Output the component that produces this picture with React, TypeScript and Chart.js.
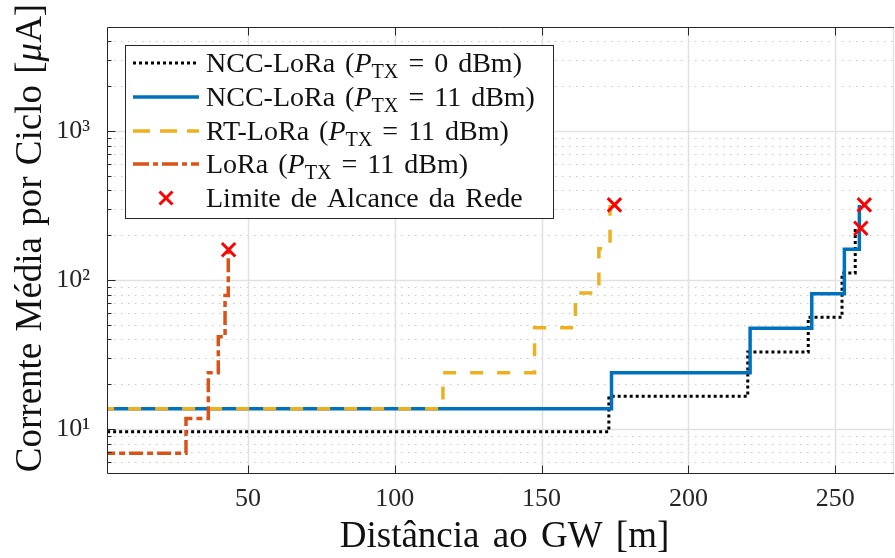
import React, { useEffect, useRef } from 'react';
import { Chart, registerables } from 'chart.js';

Chart.register(...registerables);

const FONT = '"Liberation Serif", "Times New Roman", serif';
const AXIS_COLOR = '#262626';

// ---- data ----
const ncc0X = [0, 172.9, 220.2, 240.8, 252.3, 256.8];
const ncc0Y = [9.6, 16.6, 32.9, 56.4, 111.7, 223];

const ncc11X = [0, 173.8, 221.0, 242.0, 253.1, 258.2];
const ncc11Y = [13.7, 23.9, 47.5, 81, 161, 320];

const rtX = [0, 116.4, 147.6, 161.5, 169.5, 173.3];
const rtY = [13.7, 23.9, 47.9, 82, 162.5, 320];

const loraX = [0, 28.9, 36.5, 39.9, 42.2, 43.3];
const loraY = [6.9, 11.8, 23.9, 41.7, 78.8, 160];

const limitX = [43.4, 174.8, 258.7, 259.9];
const limitY = [160, 320, 223, 320];

const xTickValues = [50, 100, 150, 200, 250];
const yMajorTicks = [10, 100, 1000];
const yTickLabels = ['10¹', '10²', '10³'];
const yMinorTicks = [6, 7, 8, 9, 20, 30, 40, 50, 60, 70, 80, 90, 200, 300, 400, 500, 600, 700, 800, 900, 2000, 3000, 4000];

const legendNames = ['NCC-LoRa', 'NCC-LoRa', 'RT-LoRa', 'LoRa', 'Limite de Alcance da Rede'];
const legendPowers = ['0 dBm', '11 dBm', '11 dBm', '11 dBm', ''];

const xTitle = 'Distância ao GW [m]';
const yTitlePre = 'Corrente Média por Ciclo [';
const yTitleMu = 'μ';
const yTitlePost = 'A]';

const COLORS = {
  ncc0: '#000000',
  ncc11: '#0072BD',
  rt: '#EDB120',
  lora: '#D95319',
  limit: '#FF0000',
};

const W = 895;
const H = 558;

const toPts = (xs: number[], ys: number[]) => xs.map((x, i) => ({ x, y: ys[i] }));

type Piece = { text: string; italic?: boolean; sub?: boolean };

function setWS(ctx: any, px: number) {
  if ('wordSpacing' in ctx) ctx.wordSpacing = px + 'px';
}

function drawPieces(ctx: CanvasRenderingContext2D, pieces: Piece[], x: number, y: number, size: number) {
  let cx = x;
  for (const p of pieces) {
    const s = p.sub ? size * 0.72 : size;
    ctx.font = `${p.italic ? 'italic ' : ''}${s}px ${FONT}`;
    ctx.fillText(p.text, cx, y + (p.sub ? size * 0.22 : 0));
    cx += ctx.measureText(p.text).width;
  }
  return cx - x;
}

function measurePieces(ctx: CanvasRenderingContext2D, pieces: Piece[], size: number) {
  let w = 0;
  for (const p of pieces) {
    const s = p.sub ? size * 0.72 : size;
    ctx.font = `${p.italic ? 'italic ' : ''}${s}px ${FONT}`;
    w += ctx.measureText(p.text).width;
  }
  return w;
}

const decorPlugin = {
  id: 'decor',
  beforeDatasetsDraw(chart: any) {
    const { ctx, chartArea: a, scales } = chart;
    const x = scales.x;
    const y = scales.y;
    ctx.save();
    ctx.beginPath();
    ctx.rect(a.left, a.top, a.right - a.left, a.bottom - a.top);
    ctx.clip();
    // minor dotted y grid
    ctx.strokeStyle = '#c8c8c8';
    ctx.lineWidth = 1;
    ctx.setLineDash([1.5, 5.5]);
    for (const v of yMinorTicks) {
      const py = Math.round(y.getPixelForValue(v)) + 0.5;
      ctx.beginPath();
      ctx.moveTo(a.left, py);
      ctx.lineTo(a.right, py);
      ctx.stroke();
    }
    ctx.setLineDash([]);
    ctx.strokeStyle = '#e1e1e1';
    ctx.lineWidth = 1.5;
    for (const v of yMajorTicks) {
      const py = Math.round(y.getPixelForValue(v)) + 0.5;
      ctx.beginPath();
      ctx.moveTo(a.left, py);
      ctx.lineTo(a.right, py);
      ctx.stroke();
    }
    for (const v of xTickValues) {
      const px = Math.round(x.getPixelForValue(v)) + 0.5;
      ctx.beginPath();
      ctx.moveTo(px, a.top);
      ctx.lineTo(px, a.bottom);
      ctx.stroke();
    }
    // faint right edge (the frame is cut by the picture edge)
    ctx.beginPath();
    ctx.moveTo(a.right - 0.5, a.top);
    ctx.lineTo(a.right - 0.5, a.bottom);
    ctx.stroke();
    ctx.restore();
  },
  afterDatasetsDraw(chart: any) {
    const { ctx, chartArea: a, scales } = chart;
    const x = scales.x;
    const y = scales.y;
    ctx.save();
    // axes frame (left, top, bottom)
    ctx.strokeStyle = AXIS_COLOR;
    ctx.lineWidth = 1;
    const L = Math.round(a.left) + 0.5;
    const R = Math.round(a.right);
    const T = Math.round(a.top) + 0.5;
    const B = Math.round(a.bottom) - 0.5;
    ctx.beginPath();
    ctx.moveTo(R, T); ctx.lineTo(L, T); ctx.lineTo(L, B); ctx.lineTo(R, B);
    ctx.stroke();
    // ticks
    ctx.beginPath();
    for (const v of xTickValues) {
      const px = Math.round(x.getPixelForValue(v)) + 0.5;
      ctx.moveTo(px, B); ctx.lineTo(px, B - 8);
      ctx.moveTo(px, T); ctx.lineTo(px, T + 8);
    }
    for (const v of yMajorTicks) {
      const py = Math.round(y.getPixelForValue(v)) + 0.5;
      ctx.moveTo(L, py); ctx.lineTo(L + 8, py);
    }
    for (const v of yMinorTicks) {
      const py = Math.round(y.getPixelForValue(v)) + 0.5;
      ctx.moveTo(L, py); ctx.lineTo(L + 4, py);
    }
    ctx.stroke();

    // legend
    const box = { l: 125.5, t: 45.5, r: 553.5, b: 218.5 };
    ctx.fillStyle = '#ffffff';
    ctx.fillRect(box.l, box.t, box.r - box.l, box.b - box.t);
    ctx.strokeStyle = AXIS_COLOR;
    ctx.lineWidth = 1;
    ctx.strokeRect(box.l, box.t, box.r - box.l, box.b - box.t);
    const rowsY = [63, 97, 131, 164, 198];
    const sx0 = 133;
    const sx1 = 199;
    const styles = [
      { c: COLORS.ncc0, dash: [3, 3], w: 3 },
      { c: COLORS.ncc11, dash: [], w: 3.5 },
      { c: COLORS.rt, dash: [17, 10], w: 3.5 },
      { c: COLORS.lora, dash: [16, 4, 5, 4], w: 3.5 },
    ];
    styles.forEach((s, i) => {
      ctx.strokeStyle = s.c;
      ctx.lineWidth = s.w;
      ctx.setLineDash(s.dash);
      ctx.lineCap = 'butt';
      ctx.beginPath();
      ctx.moveTo(sx0, rowsY[i]);
      ctx.lineTo(sx1, rowsY[i]);
      ctx.stroke();
    });
    ctx.setLineDash([]);
    // red X sample
    {
      const cx = 166, cy = rowsY[4], r = 6.5;
      ctx.strokeStyle = COLORS.limit;
      ctx.lineWidth = 3;
      ctx.beginPath();
      ctx.moveTo(cx - r, cy - r); ctx.lineTo(cx + r, cy + r);
      ctx.moveTo(cx + r, cy - r); ctx.lineTo(cx - r, cy + r);
      ctx.stroke();
    }
    ctx.fillStyle = '#111111';
    ctx.textBaseline = 'alphabetic';
    ctx.textAlign = 'left';
    const LS = 28;
    setWS(ctx, 3);
    legendNames.forEach((name, i) => {
      const pieces: Piece[] = legendPowers[i]
        ? [
            { text: name + ' (' },
            { text: 'P', italic: true },
            { text: 'TX', sub: true },
            { text: ' = ' + legendPowers[i] + ')' },
          ]
        : [{ text: name }];
      drawPieces(ctx, pieces, 206, rowsY[i] + 9, LS);
    });

    // axis titles
    const TS = 37;
    ctx.fillStyle = '#111111';
    setWS(ctx, 4);
    const xp: Piece[] = [{ text: xTitle }];
    const xw = measurePieces(ctx, xp, TS);
    drawPieces(ctx, xp, (a.left + a.right) / 2 - xw / 2 + 4, 547, TS);

    setWS(ctx, 2);
    const yp: Piece[] = [{ text: yTitlePre }, { text: yTitleMu, italic: true }, { text: yTitlePost }];
    const yw = measurePieces(ctx, yp, TS);
    ctx.save();
    ctx.translate(41, 238);
    ctx.rotate(-Math.PI / 2);
    drawPieces(ctx, yp, -yw / 2, 0, TS);
    ctx.restore();
    setWS(ctx, 0);

    ctx.restore();
  },
};

export default function App() {
  const ref = useRef<HTMLCanvasElement>(null);
  useEffect(() => {
    document.body.style.margin = '0';
    document.body.style.overflow = 'hidden';
    const chart = new Chart(ref.current as HTMLCanvasElement, {
      type: 'line',
      data: {
        datasets: [
          {
            label: 'NCC-LoRa (PTX = 0 dBm)',
            data: toPts(ncc0X, ncc0Y),
            borderColor: COLORS.ncc0,
            borderWidth: 3,
            borderDash: [3, 3],
            stepped: 'before',
            pointRadius: 0,
            order: 4,
          },
          {
            label: 'NCC-LoRa (PTX = 11 dBm)',
            data: toPts(ncc11X, ncc11Y),
            borderColor: COLORS.ncc11,
            borderWidth: 3.5,
            stepped: 'before',
            pointRadius: 0,
            order: 3,
          },
          {
            label: 'RT-LoRa (PTX = 11 dBm)',
            data: toPts(rtX, rtY),
            borderColor: COLORS.rt,
            borderWidth: 3.5,
            borderDash: [13, 14],
            stepped: 'before',
            pointRadius: 0,
            order: 2,
          },
          {
            label: 'LoRa (PTX = 11 dBm)',
            data: toPts(loraX, loraY),
            borderColor: COLORS.lora,
            borderWidth: 3.5,
            borderDash: [14, 4, 6, 4],
            stepped: 'before',
            pointRadius: 0,
            order: 1,
          },
          {
            label: 'Limite de Alcance da Rede',
            data: toPts(limitX, limitY),
            showLine: false,
            pointStyle: 'crossRot',
            pointRadius: 9.5,
            pointBorderWidth: 3,
            pointBorderColor: COLORS.limit,
            pointBackgroundColor: COLORS.limit,
            order: 0,
          } as any,
        ],
      },
      options: {
        animation: false,
        responsive: false,
        maintainAspectRatio: false,
        devicePixelRatio: 1,
        layout: { autoPadding: false, padding: { left: 0, right: 1, top: 27, bottom: 0 } },
        plugins: { legend: { display: false }, tooltip: { enabled: false } },
        scales: {
          x: {
            type: 'linear',
            min: 2,
            max: 270,
            grid: { display: false },
            border: { display: false },
            afterBuildTicks: (s: any) => {
              s.ticks = xTickValues.map((v) => ({ value: v }));
            },
            afterFit: (s: any) => {
              s.height = 84;
              s.paddingLeft = 0;
              s.paddingRight = 0;
            },
            ticks: {
              autoSkip: false,
              maxRotation: 0,
              padding: 2,
              color: '#262626',
              font: { family: FONT, size: 26 },
              callback: (v: any) => String(v),
            },
          },
          y: {
            type: 'logarithmic',
            min: 5,
            max: 5000,
            grid: { display: false },
            border: { display: false },
            afterBuildTicks: (s: any) => {
              s.ticks = yMajorTicks.map((v) => ({ value: v }));
            },
            afterFit: (s: any) => {
              s.width = 107;
              s.paddingTop = 0;
              s.paddingBottom = 0;
            },
            ticks: {
              autoSkip: false,
              padding: 9,
              color: '#262626',
              font: { family: FONT, size: 26 },
              callback: (v: any) => {
                const i = yMajorTicks.indexOf(Number(v));
                return i >= 0 ? yTickLabels[i] : '';
              },
            },
          },
        },
      } as any,
      plugins: [decorPlugin],
    });
    return () => chart.destroy();
  }, []);
  return (
    <div style={{ position: 'absolute', left: 0, top: 0, width: W, height: H, background: '#ffffff', overflow: 'hidden' }}>
      <canvas ref={ref} width={W} height={H} style={{ display: 'block', width: W, height: H }} />
    </div>
  );
}
